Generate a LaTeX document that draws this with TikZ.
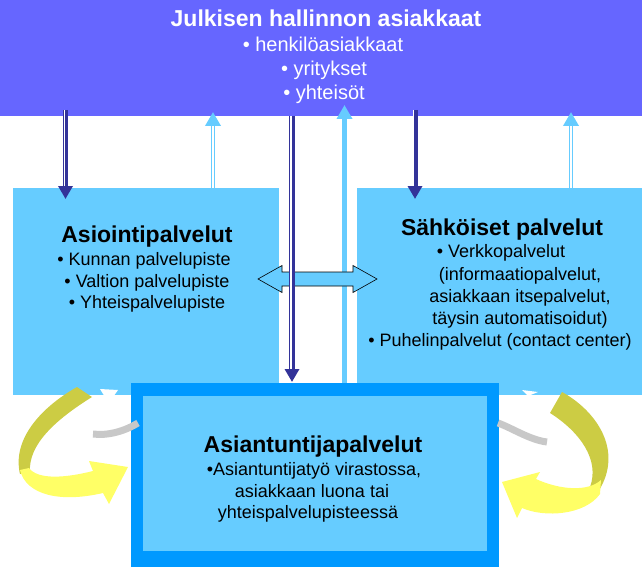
\documentclass[tikz,border=0pt]{standalone}
\usepackage{fontspec}
\setmainfont{Liberation Sans}
\usetikzlibrary{arrows.meta}
\definecolor{bannerc}{HTML}{6666FF}
\definecolor{boxc}{HTML}{66CCFF}
\definecolor{borderc}{HTML}{0099FF}
\definecolor{darkc}{HTML}{333399}
\definecolor{olivec}{HTML}{CCCC44}
\definecolor{yellowc}{HTML}{FFFF66}
\definecolor{greyc}{HTML}{C8C8C8}
\begin{document}
\begin{tikzpicture}[x=1pt,y=-1pt,
  boxnode/.style={fill=boxc, inner sep=0pt, outer sep=0pt, anchor=north west},
  titletext/.style={font=\fontsize{23}{27}\selectfont\bfseries, anchor=base, inner sep=0pt},
  bodytext/.style={font=\fontsize{18}{21}\selectfont, anchor=base, inner sep=0pt},
  bannertext/.style={font=\fontsize{20}{24}\selectfont, text=white, anchor=base, inner sep=0pt},
  darkarrow/.style={draw=darkc, line width=5pt, -{Triangle[width=14pt,length=13pt]}},
  lightarrow/.style={draw=boxc, line width=4.5pt, -{Triangle[width=15pt,length=14pt]}},
  gapline/.style={draw=white, line width=1.2pt},
  swaparrow/.style={fill=boxc, draw=black, line width=0.6pt, line join=miter},
  greyband/.style={draw=greyc, line width=7pt},
]
\useasboundingbox (0,0) rectangle (642,567);

% boxes
\node[fill=bannerc, inner sep=0pt, outer sep=0pt, anchor=north west, minimum width=642pt, minimum height=116pt] (banner) at (0,0) {};
\node[boxnode, minimum width=266pt, minimum height=207pt] (leftbox) at (13,188) {};
\node[boxnode, minimum width=285pt, minimum height=207pt] (rightbox) at (357,188) {};
\node[fill=borderc, inner sep=0pt, outer sep=0pt, anchor=north west, minimum width=368pt, minimum height=188pt] (expertouter) at (131,383) {};
\node[boxnode, minimum width=344pt, minimum height=155pt] (expert) at (143,396) {};

% banner text
\node[bannertext, font=\fontsize{23}{27}\selectfont\bfseries] (t0) at (326,27) {Julkisen hallinnon asiakkaat};
\node[bannertext] (t1) at (323,52) {• henkilöasiakkaat};
\node[bannertext] (t2) at (324,76) {• yritykset};
\node[bannertext] (t3) at (324,100) {• yhteisöt};

% left box text
\node[titletext] (l0) at (147,242) {Asiointipalvelut};
\node[bodytext] (l1) at (144,265) {• Kunnan palvelupiste};
\node[bodytext] (l2) at (147,287) {• Valtion palvelupiste};
\node[bodytext] (l3) at (147,308) {• Yhteispalvelupiste};

% right box text
\node[titletext] (r0) at (502,235) {Sähköiset palvelut};
\node[bodytext] (r1) at (501,257) {• Verkkopalvelut};
\node[bodytext] (r2) at (520,280) {(informaatiopalvelut,};
\node[bodytext] (r3) at (520,302) {asiakkaan itsepalvelut,};
\node[bodytext] (r4) at (520,324) {täysin automatisoidut)};
\node[bodytext] (r5) at (500,346) {• Puhelinpalvelut (contact center)};

% bottom box text
\node[titletext] (e0) at (313,452) {Asiantuntijapalvelut};
\node[bodytext] (e1) at (314,475) {•Asiantuntijatyö virastossa,};
\node[bodytext] (e2) at (312,497) {asiakkaan luona tai};
\node[bodytext] (e3) at (308,518) {yhteispalvelupisteessä};

% vertical connectors
\coordinate (d1s) at (65.5,110);  \coordinate (d1m) at (65.5,186); \coordinate (d1e) at (65.5,199);
\coordinate (d2s) at (415,110);   \coordinate (d2m) at (415,186);  \coordinate (d2e) at (415,199);
\coordinate (u1s) at (213,188);   \coordinate (u1m) at (213,126);  \coordinate (u1e) at (213,112);
\coordinate (u2s) at (571,188);   \coordinate (u2m) at (571,126);  \coordinate (u2e) at (571,112);
\coordinate (ucs) at (344.5,383); \coordinate (uce) at (344.5,105);
\coordinate (dcs) at (292,116);   \coordinate (dcm) at (292,369);  \coordinate (dce) at (292,382);

\draw[darkarrow] (d1s) -- (d1e);
\draw[gapline, line width=0.8pt] ([xshift=-1.3pt]d1s) -- ([xshift=-1.3pt]d1m);
\draw[darkarrow] (d2s) -- (d2e);
\draw[gapline, line width=0.8pt] ([xshift=-1.3pt]d2s) -- ([xshift=-1.3pt]d2m);

\draw[lightarrow] (u1s) -- (u1e);
\draw[gapline] (u1s) -- (u1m);
\draw[lightarrow] (u2s) -- (u2e);
\draw[gapline] (u2s) -- (u2m);

\draw[lightarrow, line width=5pt] (ucs) -- (uce);

% horizontal double arrow between the two service boxes
\coordinate (swl) at (258,279);
\coordinate (swr) at (377,279);
\draw[swaparrow] (swl) -- ++(24,-13.5) -- ++(0,6.5) -- ++(71,0) -- ++(0,-6.5) -- (swr)
  -- ++(-24,13.5) -- ++(0,-6.5) -- ++(-71,0) -- ++(0,6.5) -- cycle;

\draw[darkarrow, line width=5.5pt] (dcs) -- (dce);
\draw[gapline, line width=1.5pt] ([xshift=-1pt]dcs) -- ([xshift=-1pt]dcm);

% left curved arrow
\fill[olivec] (77,387) .. controls (40,408) and (12,440) .. (20,474) -- (30,472)
  .. controls (28,445) and (55,420) .. (92,397) -- cycle;
\fill[yellowc] (20,470) .. controls (26,495) and (60,503) .. (103,493) -- (109,504) -- (128,467)
  -- (89,461) -- (93,471) .. controls (65,478) and (38,480) .. (29,468) -- cycle;
\draw[greyband] (93,434) .. controls (108,436) and (125,431) .. (138,423);
\fill[white] (100,389) -- (118,390) -- (113,397) -- (105,397) -- cycle;

% right curved arrow
\fill[olivec] (550,413) -- (562,392) .. controls (595,410) and (625,450) .. (598,492)
  -- (590,487) .. controls (600,460) and (580,432) .. (550,413) -- cycle;
\fill[yellowc] (601,480) .. controls (588,492) and (560,490) .. (536,479) -- (540,472) -- (502,482)
  -- (517,518) -- (522,508) .. controls (545,518) and (585,515) .. (600,494) -- cycle;
\draw[greyband] (498,423) .. controls (512,428) and (530,440) .. (547,442);
\fill[white] (522,390) -- (538,392) -- (528,396) -- cycle;
\end{tikzpicture}
\end{document}
